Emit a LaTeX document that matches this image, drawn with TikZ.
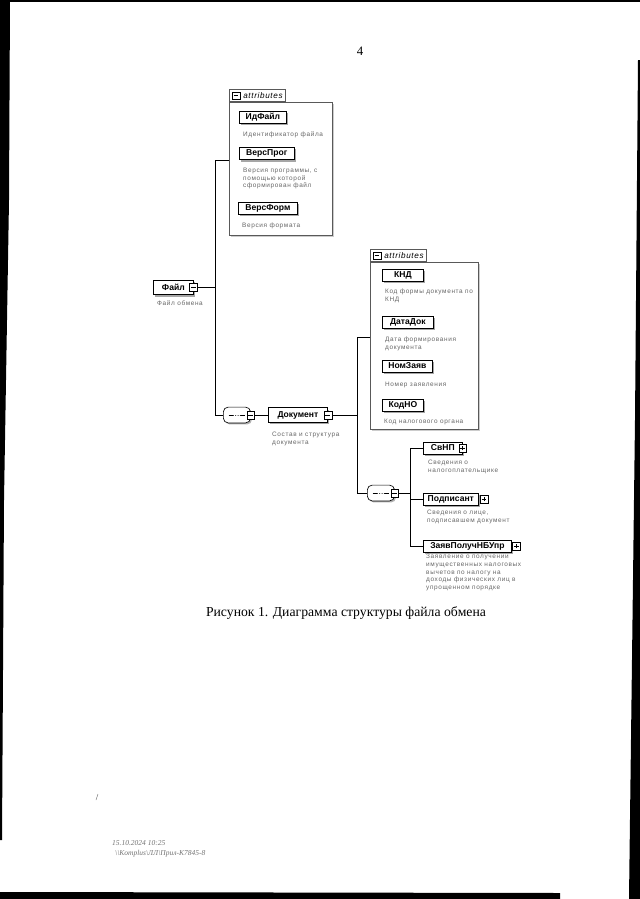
\documentclass[tikz,border=0pt]{standalone}
\usepackage{fontspec}
\setmainfont{Liberation Serif}
\setsansfont{Liberation Sans}
\newfontfamily\descfont[LetterSpace=10]{Liberation Sans}
\newfontfamily\tabfont[LetterSpace=8]{Liberation Sans}
\usepackage{tikz}
\usetikzlibrary{shadows}
\usetikzlibrary{calc}

\tikzset{
  conn/.style={line width=0.6pt},
  elem/.style={draw, fill=white, line width=0.7pt, anchor=west, inner sep=1pt,
    minimum height=4mm, font=\sffamily\bfseries\fontsize{8}{9}\selectfont,
    drop shadow={shadow xshift=0.6mm, shadow yshift=-0.6mm, fill=black!35, opacity=1}},
  desc/.style={anchor=north west, inner sep=0pt, align=left, text=black!60,
    font=\descfont\fontsize{6}{7.4}\selectfont},
  pmbox/.style={draw, fill=white, minimum size=2.6mm, inner sep=0pt, line width=0.5pt},
  minus/.style={pmbox, path picture={
    \draw ([xshift=0.5mm]path picture bounding box.west) -- ([xshift=-0.5mm]path picture bounding box.east);}},
  plus/.style={pmbox, path picture={
    \draw ([xshift=0.5mm]path picture bounding box.west) -- ([xshift=-0.5mm]path picture bounding box.east);
    \draw ([yshift=0.5mm]path picture bounding box.south) -- ([yshift=-0.5mm]path picture bounding box.north);}},
  seq/.style={draw, fill=white, rounded corners=1.6mm, anchor=west, line width=0.6pt,
    minimum width=8.9mm, minimum height=5.2mm, inner sep=0pt,
    drop shadow={shadow xshift=0.5mm, shadow yshift=-0.5mm, fill=black!30, opacity=1},
    path picture={
      \draw[line width=0.6pt] ([xshift=-2.7mm]path picture bounding box.center) -- ([xshift=2.7mm]path picture bounding box.center);
      \foreach \dx in {-0.8,0,0.8} \fill ([xshift=\dx mm]path picture bounding box.center) circle (0.38mm);}},
  attrbox/.style={draw=black!65, fill=white, line width=0.5pt, anchor=north west, inner sep=0pt,
    drop shadow={shadow xshift=0.5mm, shadow yshift=-0.5mm, fill=black!20, opacity=1}},
  attrtab/.style={draw=black!65, fill=white, line width=0.5pt, anchor=south west, inner xsep=1mm,
    inner ysep=0.5mm, minimum height=4mm, font=\tabfont\itshape\fontsize{7.6}{8}\selectfont},
  scan/.style={fill=black}
}

\begin{document}
\begin{tikzpicture}[x=0.328125mm, y=-0.328125mm]
            \useasboundingbox (0,0) rectangle (640,899);
            \fill[white] (0,0) rectangle (640,899);
            \fill[scan] (0,0) rectangle (640,2);
            \fill[scan] (0,0) -- (10,0) -- (9,200) -- (4,500) -- (2,840) -- (0,840) -- cycle;
            \fill[scan] (640,60) -- (638,60) -- (635,420) -- (629,899) -- (640,899) -- cycle;
            \fill[scan] (0,892) -- (560,893) -- (560,899) -- (0,899) -- cycle;
            \draw[black!60] (96,800) -- (98,794);

            \draw (360,51) node[font=\fontsize{12}{14}\selectfont] (pageNum) {4};

            \draw (153,287.5) node[elem, minimum width=13.1mm, minimum height=4.8mm] (file) {Файл};
            \draw (file.east) node[minus] (fileM) {};
            \draw (157,301) node[desc] (fileD) {Файл обмена};

            \draw (229,102) node[attrbox, minimum width=33.8mm, minimum height=43.6mm] (attrA) {};
            \draw (attrA.north west) node[attrtab] (attrAtab) {\hspace{3.6mm}attributes};
            \draw ([xshift=2.3mm]attrAtab.west) node[minus, minimum size=2.5mm] (attrAm) {};
            \draw (239,117.5) node[elem, minimum width=15.4mm] (idFile) {ИдФайл};
            \draw (243,132) node[desc] (idFileD) {Идентификатор файла};
            \draw (239,153.7) node[elem, minimum width=18mm] (versProg) {ВерсПрог};
            \draw (243,167.5) node[desc] (versProgD) {Версия программы, с\\помощью которой\\сформирован файл};
            \draw (238,208.3) node[elem, minimum width=19.4mm] (versForm) {ВерсФорм};
            \draw (242,222.5) node[desc] (versFormD) {Версия формата};

            \draw (223,415) node[seq] (seqA) {};
            \draw (seqA.east) node[minus] (seqAM) {};
            \draw (268,415) node[elem, minimum width=19.4mm, minimum height=4.8mm] (doc) {Документ};
            \draw (doc.east) node[minus] (docM) {};
            \draw (272,432) node[desc] (docD) {Состав и структура\\документа};

            \coordinate (fileJa) at (215,160);
            \coordinate (fileJb) at (215,415);
            \draw[conn] (fileM.east) -- (fileM.east -| fileJa);
            \draw[conn] (fileJa) -- (fileJa -| attrA.west);
            \draw[conn] (fileJa) -- (fileJb) -- (seqA.west);
            \draw[conn] (seqAM.east) -- (doc.west);

            \draw (370,262) node[attrbox, minimum width=35.4mm, minimum height=54.8mm] (attrB) {};
            \draw (attrB.north west) node[attrtab] (attrBtab) {\hspace{3.6mm}attributes};
            \draw ([xshift=2.3mm]attrBtab.west) node[minus, minimum size=2.5mm] (attrBm) {};
            \draw (382,275) node[elem, minimum width=13.5mm] (knd) {КНД};
            \draw (385,289) node[desc] (kndD) {Код формы документа по\\КНД};
            \draw (382,322) node[elem, minimum width=16.7mm] (dataDok) {ДатаДок};
            \draw (385,337) node[desc] (dataDokD) {Дата формирования\\документа};
            \draw (382,366) node[elem, minimum width=16.4mm] (nomZayav) {НомЗаяв};
            \draw (385,382) node[desc] (nomZayavD) {Номер заявления};
            \draw (382,405.3) node[elem, minimum width=13.5mm] (kodNO) {КодНО};
            \draw (384,418.7) node[desc] (kodNOD) {Код налогового органа};

            \draw (367,493) node[seq] (seqB) {};
            \draw (seqB.east) node[minus] (seqBM) {};

            \coordinate (docJa) at (357,337);
            \coordinate (docJb) at (357,493);
            \draw[conn] (docM.east) -- (docM.east -| docJa);
            \draw[conn] (docJa) -- (docJa -| attrB.west);
            \draw[conn] (docJa) -- (docJb) -- (seqB.west);

            \draw (423,448) node[elem, minimum width=12.8mm] (svNP) {СвНП};
            \draw (svNP.east) node[plus] (svNPP) {};
            \draw (428,460) node[desc] (svNPD) {Сведения о\\налогоплательщике};
            \draw (423,499) node[elem, minimum width=18mm] (podp) {Подписант};
            \draw ([xshift=0.4mm]podp.east) node[plus, anchor=west] (podpP) {};
            \draw (427,510) node[desc] (podpD) {Сведения о лице,\\подписавшем документ};
            \draw (423,546) node[elem, minimum width=28.9mm] (zayav) {ЗаявПолучНБУпр};
            \draw ([xshift=0.2mm]zayav.east) node[plus, anchor=west] (zayavP) {};
            \draw (426,553.5) node[desc] (zayavD) {Заявление о получении\\имущественных налоговых\\вычетов по налогу на\\доходы физических лиц в\\упрощенном порядке};

            \coordinate (seqBJa) at (410,448);
            \coordinate (seqBJb) at (410,546);
            \draw[conn] (seqBM.east) -- (seqBM.east -| seqBJa);
            \draw[conn] (seqBJa) -- (seqBJb);
            \draw[conn] (seqBJa) -- (svNP.west);
            \draw[conn] (podp.west -| seqBJa) -- (podp.west);
            \draw[conn] (seqBJb) -- (zayav.west);

            \draw (346,613) node[font=\fontsize{12.8}{15}\selectfont] (caption) {Рисунок 1. Диаграмма структуры файла обмена};

            \draw (112,843) node[anchor=west, inner sep=0pt, text=black!55, font=\itshape\fontsize{7}{8}\selectfont] (stampDate) {15.10.2024 10:25};
            \draw (115,854) node[anchor=west, inner sep=0pt, text=black!55, font=\itshape\fontsize{7}{8}\selectfont] (stampPath) {\textbackslash\textbackslash Komplus\textbackslash ЛЛ\textbackslash Прил-К7845-8};
\end{tikzpicture}
\end{document}
